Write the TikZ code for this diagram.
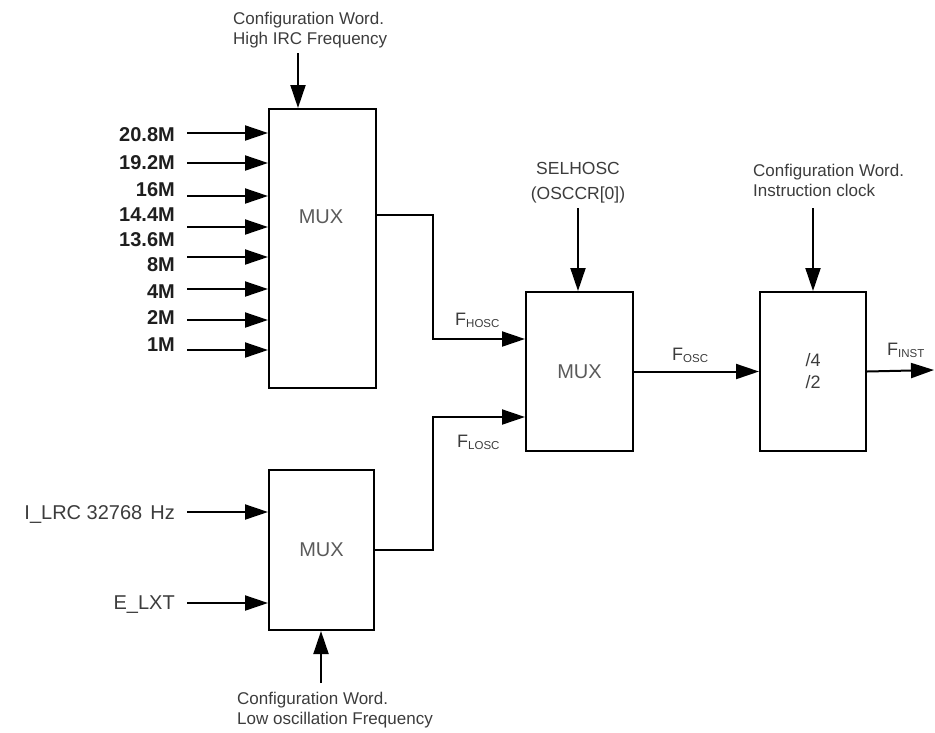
\documentclass[tikz,border=0pt]{standalone}
\usepackage{fontspec}
\setmainfont{Liberation Sans}
\usepackage{tikz}
\usetikzlibrary{positioning, arrows.meta}
\definecolor{inktext}{HTML}{3C3C3C}
\definecolor{muxgrey}{HTML}{5A5A5A}
\definecolor{freqink}{HTML}{1E1E1E}

\newcommand{\fsig}[1]{F\raisebox{-2pt}{\fontsize{11.5}{11.5}\selectfont #1}}

\begin{document}
\begin{tikzpicture}[
  x=1pt, y=-1pt,
  every node/.style={inner sep=0pt, text=inktext},
  block/.style={
    draw=black,
    line width=2pt,
    minimum width=107pt,
    anchor=north west,
    font=\fontsize{20}{20}\selectfont,
    text=muxgrey,
  },
  muxlabel/.style={font=\fontsize{20}{20}\selectfont, text=muxgrey},
  cfgnote/.style={font=\fontsize{17}{20}\selectfont, align=left, anchor=north west},
  selnote/.style={font=\fontsize{17.5}{25}\selectfont, align=center, anchor=north},
  inlabel/.style={font=\bfseries\fontsize{20}{20}\selectfont, text=freqink, anchor=east},
  srclabel/.style={font=\fontsize{20}{20}\selectfont, anchor=base east},
  siglabel/.style={font=\fontsize{18}{18}\selectfont, anchor=base west},
  wire/.style={line width=2pt, -{Triangle[length=23pt, width=15pt]}},
]
  \useasboundingbox (0,0) rectangle (935,732);

  \node[block, minimum height=279pt] (hmux) at (268,108) {};
  \node[muxlabel] (hmuxtxt) at (321,217) {MUX};
  \node[block, minimum height=159pt] (omux) at (525,291) {MUX};
  \node[block, minimum width=106pt, minimum height=159pt, align=center,
        font=\fontsize{18}{22}\selectfont, text=inktext] (divider) at (759,291) {/4\\/2};
  \node[block, minimum width=105pt, minimum height=160pt] (lmux) at (268,469) {MUX};

  \node[cfgnote] (cfghigh) at (233,12) {Configuration Word.\\High IRC Frequency};
  \node[selnote] (selhosc) at (578,162) {SELHOSC\\(OSCCR[0])};
  \node[cfgnote] (cfginst) at (753,164) {Configuration Word.\\Instruction clock};
  \node[cfgnote] (cfglow) at (237,692) {Configuration Word.\\Low oscillation Frequency};

  \foreach \t/\y [count=\i] in {20.8M/135, 19.2M/163, 16M/190, 14.4M/215, 13.6M/240,
                                8M/265, 4M/292, 2M/318, 1M/345}
    \node[inlabel] (hlab\i) at (175,\y) {\t};
  \foreach \y [count=\i] in {133,163,196,227,257,289,320,350} {
    \coordinate (hin\i) at (187,\y);
    \draw[wire] (hin\i) -- (hin\i -| hmux.west);
  }

  \node[srclabel] (ilrc) at (175,519) {I\_LRC 32768\hspace{8pt}Hz};
  \node[srclabel] (elxt) at (175,609) {E\_LXT};
  \coordinate (lin1) at (187,512);
  \coordinate (lin2) at (187,603);
  \draw[wire] (lin1) -- (lin1 -| lmux.west);
  \draw[wire] (lin2) -- (lin2 -| lmux.west);

  \node[siglabel] (fhosc) at (455,325) {\fsig{HOSC}};
  \node[siglabel] (flosc) at (457,447) {\fsig{LOSC}};
  \node[siglabel] (fosc) at (672,360) {\fsig{OSC}};
  \node[siglabel] (finst) at (887,355) {\fsig{INST}};

  \coordinate (hbend) at (433,215);
  \coordinate (fhin) at (525,339);
  \coordinate (lbend) at (433,417);
  \coordinate (flin) at (525,417);
  \coordinate (fout) at (934,370);
  \draw[wire] (hmux.east |- hbend) -- (hbend) |- (fhin);
  \draw[wire] (lmux.east) -| (lbend) -- (flin);
  \draw[wire] (omux.east) -- (divider.west);
  \draw[wire] (divider.east) -- (fout);

  \coordinate (hsel) at (298,53);
  \coordinate (osel) at (578,208);
  \coordinate (dsel) at (813,208);
  \coordinate (lsel) at (321,683);
  \draw[wire] (hsel) -- (hsel |- hmux.north);
  \draw[wire] (osel) -- (osel |- omux.north);
  \draw[wire] (dsel) -- (dsel |- divider.north);
  \draw[wire] (lsel) -- (lsel |- lmux.south);
\end{tikzpicture}
\end{document}
